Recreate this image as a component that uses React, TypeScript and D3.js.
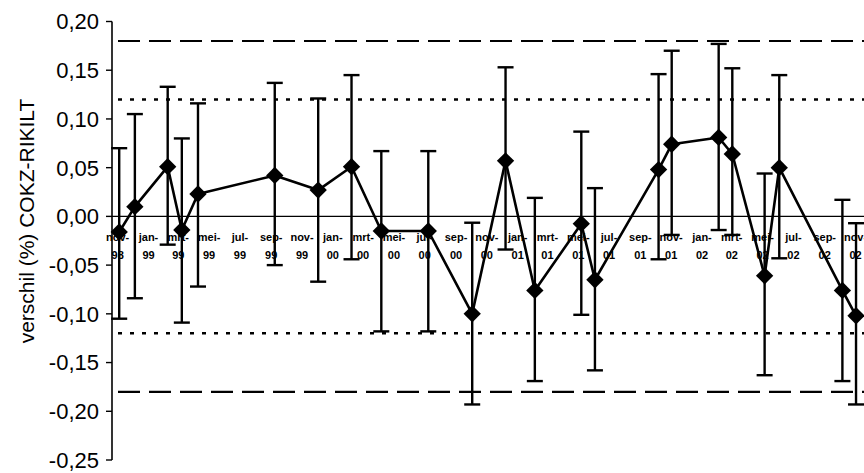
import React from "react";
import * as d3 from "d3";

const pointDates = [
  "1998-11-04", "1998-12-05", "1999-02-08", "1999-03-08", "1999-04-09",
  "1999-09-08", "1999-12-03", "2000-02-07", "2000-04-06", "2000-07-08",
  "2000-10-03", "2000-12-08", "2001-02-04", "2001-05-07", "2001-06-03",
  "2001-10-07", "2001-11-02", "2002-02-03", "2002-03-02", "2002-05-05",
  "2002-06-03", "2002-10-06", "2002-11-02",
];
const verschil = [
  -0.016, 0.010, 0.051, -0.014, 0.023,
  0.042, 0.027, 0.051, -0.015, -0.015,
  -0.100, 0.057, -0.076, -0.0075, -0.065,
  0.048, 0.074, 0.081, 0.064, -0.061,
  0.050, -0.076, -0.102,
];
const errTop = [
  0.070, 0.105, 0.133, 0.080, 0.116,
  0.137, 0.121, 0.145, 0.067, 0.067,
  -0.0065, 0.153, 0.019, 0.087, 0.029,
  0.146, 0.170, 0.177, 0.152, 0.044,
  0.145, 0.017, -0.007,
];
const errBottom = [
  -0.105, -0.084, -0.029, -0.109, -0.072,
  -0.050, -0.067, -0.044, -0.118, -0.118,
  -0.193, -0.034, -0.169, -0.101, -0.158,
  -0.044, -0.019, -0.014, -0.019, -0.163,
  -0.043, -0.169, -0.193,
];
const xTickDates = [
  "1998-11-01", "1999-01-01", "1999-03-01", "1999-05-01", "1999-07-01", "1999-09-01", "1999-11-01",
  "2000-01-01", "2000-03-01", "2000-05-01", "2000-07-01", "2000-09-01", "2000-11-01",
  "2001-01-01", "2001-03-01", "2001-05-01", "2001-07-01", "2001-09-01", "2001-11-01",
  "2002-01-01", "2002-03-01", "2002-05-01", "2002-07-01", "2002-09-01", "2002-11-01",
];
const dutchMonths = ["jan", "feb", "mrt", "apr", "mei", "jun", "jul", "aug", "sep", "okt", "nov", "dec"];
const yTicks = [0.2, 0.15, 0.1, 0.05, 0, -0.05, -0.1, -0.15, -0.2, -0.25];
const dashedLimits = [0.18, -0.18];
const dottedLimits = [0.12, -0.12];
const yTitle = "verschil (%) COKZ-RIKILT";

const W = 864;
const H = 473;
const AXIS_X = 112;

const parse = d3.timeParse("%Y-%m-%d");
const nlFormat = d3.formatLocale({ decimal: ",", thousands: ".", grouping: [3], currency: ["€", ""], minus: "-" });
const fmtY = nlFormat.format(".2f");

export default function App() {
  const x = d3
    .scaleTime()
    .domain([parse("1999-01-01") as Date, parse("2002-01-01") as Date])
    .range([148.5, 702]);
  const y = d3.scaleLinear().domain([-0.25, 0.2]).range([460, 21.5]);

  const pts = pointDates.map((d, i) => ({
    x: x(parse(d) as Date),
    v: verschil[i],
    hi: errTop[i],
    lo: errBottom[i],
  }));

  const line = d3
    .line<{ x: number; v: number }>()
    .x((d) => d.x)
    .y((d) => y(d.v));

  const diamond = d3.symbol().type(d3.symbolSquare).size(150)();
  const capHalf = 8;
  const font = "'Liberation Sans', Arial, sans-serif";

  return (
    <svg
      width={W}
      height={H}
      style={{ position: "absolute", left: 0, top: 0, background: "#fff" }}
      fontFamily={font}
    >
      <rect x={0} y={0} width={W} height={H} fill="#fff" />
      {/* reference limit lines */}
      {dashedLimits.map((v) => (
        <line key={"d" + v} x1={118} x2={W + 10} y1={y(v)} y2={y(v)} stroke="#000" strokeWidth={2.2} strokeDasharray="22,9" />
      ))}
      {dottedLimits.map((v) => (
        <line key={"p" + v} x1={118} x2={W + 10} y1={y(v)} y2={y(v)} stroke="#000" strokeWidth={2.4} strokeDasharray="4,8" />
      ))}
      {/* zero line */}
      <line x1={AXIS_X} x2={W + 10} y1={y(0)} y2={y(0)} stroke="#000" strokeWidth={1.3} />

      {/* y axis */}
      <line x1={AXIS_X} x2={AXIS_X} y1={y(0.2)} y2={y(-0.25)} stroke="#000" strokeWidth={1.6} />
      {yTicks.map((t) => (
        <g key={t}>
          <line x1={AXIS_X - 6} x2={AXIS_X} y1={y(t)} y2={y(t)} stroke="#000" strokeWidth={1.4} />
          <text x={AXIS_X - 13} y={y(t)} dy="0.36em" textAnchor="end" fontSize={22} fill="#000">
            {fmtY(t)}
          </text>
        </g>
      ))}
      <text
        transform={`translate(28, 221) rotate(-90)`}
        textAnchor="middle"
        dominantBaseline="middle"
        fontSize={21}
        fill="#000"
      >
        {yTitle}
      </text>

      {/* x tick labels */}
      {xTickDates.map((d) => {
        const dt = parse(d) as Date;
        const px = x(dt);
        const mon = dutchMonths[dt.getMonth()];
        const yr = String(dt.getFullYear()).slice(2);
        return (
          <g key={d} fontWeight="bold" fontSize={11} fill="#000">
            <text x={px} y={241} textAnchor="middle">{mon + "-"}</text>
            <text x={px} y={259} textAnchor="middle">{yr}</text>
          </g>
        );
      })}

      {/* error bars */}
      {pts.map((p, i) => (
        <g key={"e" + i} stroke="#000" strokeWidth={2.4}>
          <line x1={p.x} x2={p.x} y1={y(p.hi)} y2={y(p.lo)} />
          <line x1={p.x - capHalf} x2={p.x + capHalf} y1={y(p.hi)} y2={y(p.hi)} />
          <line x1={p.x - capHalf} x2={p.x + capHalf} y1={y(p.lo)} y2={y(p.lo)} />
        </g>
      ))}

      {/* series line */}
      <path d={line(pts) || ""} fill="none" stroke="#000" strokeWidth={2.6} strokeLinejoin="round" />

      {/* markers */}
      {pts.map((p, i) => (
        <path key={"m" + i} d={diamond || ""} transform={`translate(${p.x},${y(p.v)}) rotate(45)`} fill="#000" />
      ))}
    </svg>
  );
}
